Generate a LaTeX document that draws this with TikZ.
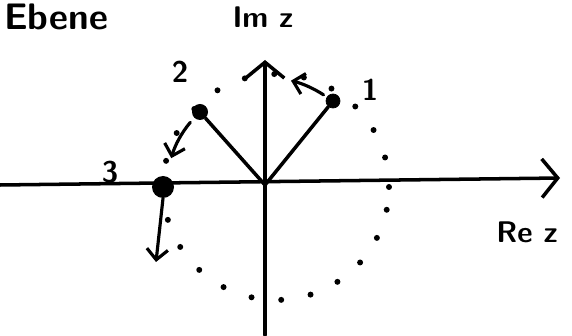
\documentclass[tikz,border=0pt]{standalone}
\usepackage{tikz}
\usetikzlibrary{arrows.meta,positioning,calc}
\tikzset{
    axis/.style={line width=2pt, -{Straight Barb[length=9pt,width=22pt,line width=2pt]}},
    radius line/.style={line width=2pt},
    dotcircle/.style={line width=3.4pt, line cap=round, dash pattern=on 0pt off 17pt},
    turn/.style={line width=1.8pt, -{Straight Barb[length=6pt,width=12pt,line width=1.8pt]}},
    pt/.style={circle, fill=black, inner sep=0pt},
    lbl/.style={font=\sffamily\bfseries\fontsize{17}{19}\selectfont}
}
\begin{document}
\begin{tikzpicture}[line cap=round, line join=round]
    \useasboundingbox (0,0) rectangle (11.44,6.7);
    % Origin and axes
    \coordinate (O) at (5.3,3.0);
    \coordinate (xl) at (0,3.0);
    \coordinate (xr) at (11.2,3.14);
    \coordinate (yb) at (5.3,0);
    \coordinate (yt) at (5.3,5.5);
    \draw[axis] (xl) -- (xr);
    \draw[axis] (yb) -- (yt);
    \node[lbl, font=\sffamily\bfseries\fontsize{21}{23}\selectfont, anchor=north west, inner sep=1pt] (title) at (0.04,6.66) {Ebene};
    \node[lbl] (imz) at (5.26,6.36) {Im z};
    \node[lbl] (rez) at (10.54,2.06) {Re z};

    % Circle, dotted (drawn by hand, a little off centre)
    \coordinate (M) at (5.52,2.96);
    \draw[dotcircle] (M) circle (2.26cm);

    % Points on the circle
    \node[pt, draw=black, minimum size=0.28cm] (p1) at (6.66,4.68) {};
    \node[pt, minimum size=0.32cm] (p2) at (4.0,4.46) {};
    \node[pt, minimum size=0.44cm] (p3) at (3.26,2.96) {};
    \draw[radius line] (O) -- (p1);
    \draw[radius line] (O) -- (p2);
    \node[lbl] (l1) at (7.4,4.9) {1};
    \node[lbl] (l2) at (3.6,5.26) {2};
    \node[lbl] (l3) at (2.2,3.26) {3};

    % Direction of motion
    \coordinate (a1s) at ($(O)+(57:2.15)$);
    \draw[turn] (a1s) arc[start angle=57, end angle=76, radius=2.15cm];
    \coordinate (a2s) at ($(O)+(140:1.95)$);
    \draw[turn] (a2s) arc[start angle=140, end angle=164, radius=1.95cm];
    \coordinate (a3e) at (3.12,1.46);
    \draw[turn] (p3.south) -- (a3e);
\end{tikzpicture}
\end{document}
